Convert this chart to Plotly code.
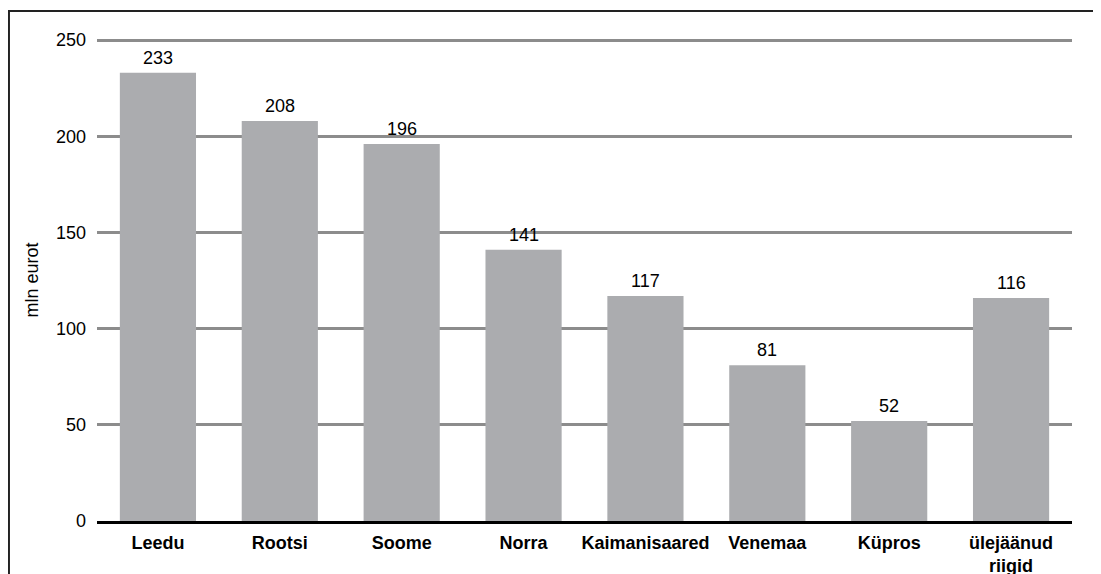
import plotly.graph_objects as go

categories = ["Leedu", "Rootsi", "Soome", "Norra", "Kaimanisaared", "Venemaa", "Küpros", "ülejäänud<br>riigid"]
values = [233, 208, 196, 141, 117, 81, 52, 116]
y_ticks = [0, 50, 100, 150, 200, 250]

FONT = "Liberation Sans, Arial, sans-serif"

fig = go.Figure()
fig.add_trace(go.Bar(
    x=categories, y=values,
    marker=dict(color="#ABACAF", line=dict(width=0)),
    hoverinfo="x+y",
))

for c, v in zip(categories, values):
    fig.add_annotation(x=c, y=v, text=str(v), showarrow=False, yanchor="bottom",
                       yshift=3, font=dict(size=18, color="black", family=FONT))

fig.update_layout(
    width=1101, height=574,
    margin=dict(l=89, r=37, t=31, b=61, autoexpand=False),
    paper_bgcolor="white", plot_bgcolor="white",
    font=dict(family=FONT, size=18, color="black"),
    bargap=0.375,
    showlegend=False,
    xaxis=dict(
        showgrid=False, showline=True, linecolor="black", linewidth=3,
        ticks="", tickfont=dict(size=18, family=FONT, weight="bold"),
        ticklabelstandoff=3,
    ),
    yaxis=dict(
        range=[0, 250.6], tickvals=y_ticks, showgrid=True, gridcolor="#8c8c8c", gridwidth=3,
        zeroline=False, showline=False, ticks="", tickfont=dict(size=18),
        ticklabelstandoff=10,
        title=dict(text="mln eurot", font=dict(size=18), standoff=12),
    ),
    shapes=[dict(type="rect", xref="paper", yref="paper",
                 x0=-0.0903, x1=1.06, y0=-0.25, y1=1.058,
                 line=dict(color="#222222", width=2), fillcolor="rgba(0,0,0,0)", layer="above")],
)

fig.write_html("out.html")
